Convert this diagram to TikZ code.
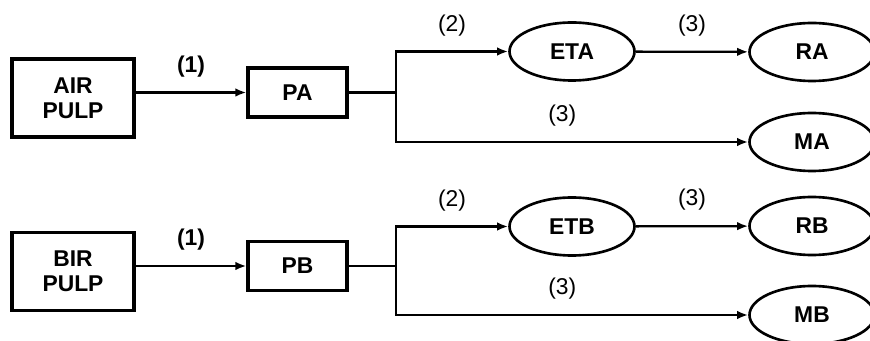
\documentclass[tikz,border=0pt]{standalone}
\usepackage{fontspec}
\setmainfont{Liberation Sans}
\usetikzlibrary{positioning,calc,shapes.geometric,arrows.meta}

\begin{document}
\begin{tikzpicture}[>={Latex[length=2.2mm,width=1.7mm]},line width=1.3pt,
                font=\fontsize{13}{14.2}\selectfont\bfseries,
                box node/.style={rectangle,draw,line width=1.8pt,align=center,inner sep=0pt},
                oval node/.style={ellipse,draw,line width=1.5pt,inner sep=0pt,
                                  minimum width=2.5cm,minimum height=1.16cm},
                lbl/.style={midway,yshift=15pt},
                lbl light/.style={font=\fontsize{13}{14.2}\selectfont,yshift=15pt}]
\clip (0,0) rectangle (17.4,-6.82);
%Nodes A
    \node[box node,minimum width=2.44cm,minimum height=1.56cm] (AP) at (1.46,-1.96) {AIR\\PULP};
    \node[box node,minimum width=1.98cm,minimum height=0.98cm] (PA) at (5.95,-1.85) {PA};
    \node[oval node] (ETA) at (11.44,-1.03) {ETA};
    \node[oval node] (RA) at (16.24,-1.04) {RA};
    \node[oval node] (MA) at (16.24,-2.84) {MA};
    \coordinate (JA) at (7.92,-1.85);
%Nodes B
    \node[box node,minimum width=2.44cm,minimum height=1.56cm] (BP) at (1.46,-5.43) {BIR\\PULP};
    \node[box node,minimum width=1.98cm,minimum height=0.98cm] (PB) at (5.95,-5.32) {PB};
    \node[oval node] (ETB) at (11.44,-4.53) {ETB};
    \node[oval node] (RB) at (16.24,-4.52) {RB};
    \node[oval node] (MB) at (16.24,-6.30) {MB};
    \coordinate (JB) at (7.92,-5.32);

%Edges A
    \path[->] (AP.east |- PA) edge node[lbl] {(1)} (PA);
    \draw (PA) -- (JA);
    \draw[->] (JA) |- node[lbl light,pos=0.75] {(2)} (ETA);
    \draw[->] (JA) |- node[lbl light,pos=0.736] {(3)} (MA);
    \path[->] (ETA) edge node[lbl light,midway] {(3)} (RA);
%Edges B
    \path[->] (BP.east |- PB) edge node[lbl] {(1)} (PB);
    \draw (PB) -- (JB);
    \draw[->] (JB) |- node[lbl light,pos=0.75] {(2)} (ETB);
    \draw[->] (JB) |- node[lbl light,pos=0.736] {(3)} (MB);
    \path[->] (ETB) edge node[lbl light,midway] {(3)} (RB);
\end{tikzpicture}
\end{document}
